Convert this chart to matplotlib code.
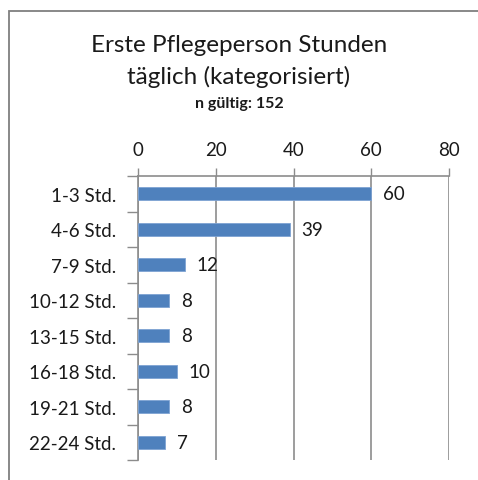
import matplotlib.pyplot as plt
from matplotlib.patches import Rectangle

plt.rcParams['font.family'] = ['Lato', 'DejaVu Sans']

# Daten
kategorien = ['1-3 Std.', '4-6 Std.', '7-9 Std.', '10-12 Std.', '13-15 Std.',
              '16-18 Std.', '19-21 Std.', '22-24 Std.']
werte = [60, 39, 12, 8, 8, 10, 8, 7]
x_ticks = [0, 20, 40, 60, 80]

grau = '#8c8c8c'
blau = '#4f81bd'

fig = plt.figure(figsize=(4.78, 4.81), dpi=100)

# Rahmen um das Diagramm (rechts/unten abgeschnitten)
fig.patches.append(Rectangle((9 / 478, -0.1), 1.2, 1 - 11.5 / 481 + 0.1,
                             transform=fig.transFigure, fill=False,
                             edgecolor='#7f7f7f', linewidth=1.3))

ax = fig.add_axes([138 / 478, 1 - 461 / 481, (449 - 138) / 478, (461 - 177) / 481])

pos = list(range(len(kategorien)))
ax.barh(pos, werte, height=0.37, color=blau, edgecolor='#7ea3d3', linewidth=0.6, zorder=3)
for p, w in zip(pos, werte):
    ax.annotate(str(w), (w, p), xytext=(12, 0), textcoords='offset pixels',
                va='center', ha='left', fontsize=13.5, color='#1a1a1a', zorder=4)

ax.set_xlim(0, 80)
ax.set_ylim(7.5, -0.5)
ax.xaxis.tick_top()
ax.set_xticks(x_ticks)
ax.set_xticklabels([str(t) for t in x_ticks], fontsize=13.5, color='#1a1a1a')
ax.tick_params(axis='x', length=6, width=1, color=grau, pad=7)
ax.grid(axis='x', color=grau, linewidth=1.2, zorder=0)

ax.set_yticks(pos)
ax.set_yticklabels(kategorien, fontsize=13.5, color='#1a1a1a')
ax.set_yticks([p - 0.5 for p in pos] + [7.5], minor=True)
ax.tick_params(axis='y', which='major', length=0, pad=16)
ax.tick_params(axis='y', which='minor', length=8, width=1, color=grau)

for s in ['right', 'bottom']:
    ax.spines[s].set_visible(False)
for s in ['left', 'top']:
    ax.spines[s].set_color(grau)
    ax.spines[s].set_linewidth(1.2)

# Titel
fig.text(0.5, 1 - 46 / 481, 'Erste Pflegeperson Stunden',
         ha='center', va='center', fontsize=17.5, color='#1a1a1a')
fig.text(0.5, 1 - 77 / 481, 'täglich (kategorisiert)',
         ha='center', va='center', fontsize=17.5, color='#1a1a1a')
fig.text(0.5, 1 - 104 / 481, 'n gültig: 152', ha='center', va='center',
         fontsize=11.5, fontweight='bold', color='#1a1a1a')

fig.savefig('out.png', dpi=100)
